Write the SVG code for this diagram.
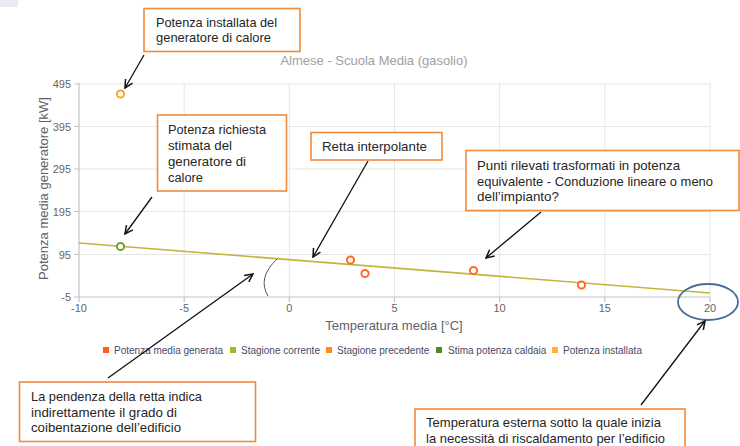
<svg xmlns="http://www.w3.org/2000/svg" width="740" height="446" viewBox="0 0 740 446">
<defs>
<marker id="arr" markerWidth="10" markerHeight="10" refX="9" refY="5" orient="auto" markerUnits="userSpaceOnUse">
<path d="M1,1 L9,5 L1,9" fill="none" stroke="#111" stroke-width="1.5"/>
</marker>
<style>
.grid{stroke:#e6e6e6;stroke-width:1;fill:none}
.axis{stroke:#c4c4c4;stroke-width:1.2;fill:none}
.tick{font-family:"Liberation Sans",Arial,sans-serif;font-size:11px;fill:#666}
.title{font-family:"Liberation Sans",Arial,sans-serif;font-size:13px;fill:#a0a0a0}
.atitle{font-family:"Liberation Sans",Arial,sans-serif;font-size:13px;fill:#606070}
.leg{font-family:"Liberation Sans",Arial,sans-serif;font-size:10px;fill:#4a4a66}
.box{fill:#fff;stroke:#f08a3c;stroke-width:1.6}
.note{font-family:"Liberation Sans",Arial,sans-serif;font-size:13px;fill:#262626}
.conn{stroke:#111;stroke-width:1.3;fill:none;marker-end:url(#arr)}
.pt{fill:#fff;stroke-width:2}
</style>
</defs>
<rect x="0" y="0" width="18" height="7" fill="#e9edf2"/>
<g id="chart">
<text class="title" x="374" y="64.5" text-anchor="middle">Almese - Scuola Media (gasolio)</text>
<g id="grid">
<line class="grid" x1="79" y1="84" x2="710" y2="84"/>
<line class="grid" x1="79" y1="126.5" x2="710" y2="126.5"/>
<line class="grid" x1="79" y1="169" x2="710" y2="169"/>
<line class="grid" x1="79" y1="211.5" x2="710" y2="211.5"/>
<line class="grid" x1="79" y1="254.5" x2="710" y2="254.5"/>
<line class="grid" x1="184.2" y1="83" x2="184.2" y2="297"/>
<line class="grid" x1="289.3" y1="83" x2="289.3" y2="297"/>
<line class="grid" x1="394.5" y1="83" x2="394.5" y2="297"/>
<line class="grid" x1="499.6" y1="83" x2="499.6" y2="297"/>
<line class="grid" x1="604.8" y1="83" x2="604.8" y2="297"/>
<line class="grid" x1="710" y1="83" x2="710" y2="297"/>
</g>
<g id="axes">
<line class="axis" x1="79" y1="83" x2="79" y2="297"/>
<line class="axis" x1="79" y1="297" x2="710" y2="297"/>
<path class="axis" d="M74,84H79M74,126.5H79M74,169H79M74,211.5H79M74,254.5H79M74,297H79M79,297V302M184.2,297V302M289.3,297V302M394.5,297V302M499.6,297V302M604.8,297V302M710,297V302"/>
<text class="tick" x="71" y="88" text-anchor="end">495</text>
<text class="tick" x="71" y="130.5" text-anchor="end">395</text>
<text class="tick" x="71" y="173" text-anchor="end">295</text>
<text class="tick" x="71" y="215.5" text-anchor="end">195</text>
<text class="tick" x="71" y="258.5" text-anchor="end">95</text>
<text class="tick" x="71" y="301" text-anchor="end">-5</text>
<text class="tick" x="79" y="312" text-anchor="middle">-10</text>
<text class="tick" x="184.2" y="312" text-anchor="middle">-5</text>
<text class="tick" x="289.3" y="312" text-anchor="middle">0</text>
<text class="tick" x="394.5" y="312" text-anchor="middle">5</text>
<text class="tick" x="499.6" y="312" text-anchor="middle">10</text>
<text class="tick" x="604.8" y="312" text-anchor="middle">15</text>
<text class="tick" x="710" y="312" text-anchor="middle">20</text>
<text class="atitle" x="394" y="330" text-anchor="middle">Temperatura media [°C]</text>
<text class="atitle" transform="translate(48,188.5) rotate(-90)" text-anchor="middle">Potenza media generatore [kW]</text>
</g>
<line id="trend" x1="79" y1="243" x2="710" y2="293" stroke="#c4b43c" stroke-width="1.6"/>
<g id="points">
<circle class="pt" cx="120.5" cy="94" r="3.6" stroke="#f5a623"/>
<circle class="pt" cx="120.5" cy="246.5" r="3.6" stroke="#74a032"/>
<circle class="pt" cx="350.5" cy="260" r="3.6" stroke="#ff6a2a"/>
<circle class="pt" cx="365" cy="273.5" r="3.6" stroke="#ff6a2a"/>
<circle class="pt" cx="473.5" cy="270.5" r="3.6" stroke="#ff6a2a"/>
<circle class="pt" cx="581.5" cy="285" r="3.6" stroke="#ff6a2a"/>
</g>
<g id="legend">
<rect x="103" y="347" width="6" height="6" fill="#ff5a1f"/>
<text class="leg" x="114" y="353.5">Potenza media generata</text>
<rect x="230" y="347" width="6" height="6" fill="#a4b82a"/>
<text class="leg" x="241" y="353.5">Stagione corrente</text>
<rect x="326" y="347" width="6" height="6" fill="#ff8c1a"/>
<text class="leg" x="337" y="353.5">Stagione precedente</text>
<rect x="436" y="347" width="6" height="6" fill="#4e8a1e"/>
<text class="leg" x="448" y="353.5">Stima potenza caldaia</text>
<rect x="552" y="347" width="6" height="6" fill="#ffb238"/>
<text class="leg" x="563" y="353.5">Potenza installata</text>
</g>
</g>
<path id="angle-arc" d="M277,259 Q257,278 268,296" fill="none" stroke="#555" stroke-width="1"/>
<ellipse id="threshold-mark" cx="708" cy="302" rx="30" ry="18" fill="none" stroke="#4a6f96" stroke-width="1.8"/>
<g id="connectors">
<line class="conn" x1="144" y1="55" x2="125" y2="88"/>
<line class="conn" x1="152" y1="197" x2="125" y2="234"/>
<line class="conn" x1="368" y1="161" x2="313" y2="257"/>
<line class="conn" x1="541" y1="212" x2="486" y2="258"/>
<line class="conn" x1="108" y1="378" x2="253" y2="274"/>
<line class="conn" x1="641" y1="405" x2="705" y2="321"/>
</g>
<g id="note-installata">
<rect class="box" x="144" y="8.5" width="156" height="43"/>
<text class="note" x="156" y="27" textLength="121" lengthAdjust="spacingAndGlyphs">Potenza installata del</text>
<text class="note" x="156" y="41.5" textLength="115" lengthAdjust="spacingAndGlyphs">generatore di calore</text>
</g>
<g id="note-richiesta">
<rect class="box" x="157.5" y="115" width="129" height="76"/>
<text class="note" x="168" y="134" textLength="98" lengthAdjust="spacingAndGlyphs">Potenza richiesta</text>
<text class="note" x="168" y="150" textLength="64" lengthAdjust="spacingAndGlyphs">stimata del</text>
<text class="note" x="168" y="166" textLength="78" lengthAdjust="spacingAndGlyphs">generatore di</text>
<text class="note" x="168" y="181.5" textLength="35" lengthAdjust="spacingAndGlyphs">calore</text>
</g>
<g id="note-retta">
<rect class="box" x="311" y="132.5" width="131" height="27.5"/>
<text class="note" x="322" y="150.5" textLength="105" lengthAdjust="spacingAndGlyphs">Retta interpolante</text>
</g>
<g id="note-punti">
<rect class="box" x="466" y="150.5" width="273" height="60"/>
<text class="note" x="477" y="169.5" textLength="203" lengthAdjust="spacingAndGlyphs">Punti rilevati trasformati in potenza</text>
<text class="note" x="477" y="185.5" textLength="236" lengthAdjust="spacingAndGlyphs">equivalente - Conduzione lineare o meno</text>
<text class="note" x="477" y="200.5" textLength="82" lengthAdjust="spacingAndGlyphs">dell’impianto?</text>
</g>
<g id="note-pendenza">
<rect class="box" x="19.5" y="382" width="236" height="59.5"/>
<text class="note" x="31" y="400.5" textLength="171" lengthAdjust="spacingAndGlyphs">La pendenza della retta indica</text>
<text class="note" x="31" y="417" textLength="146" lengthAdjust="spacingAndGlyphs">indirettamente il grado di</text>
<text class="note" x="31" y="432" textLength="150" lengthAdjust="spacingAndGlyphs">coibentazione dell’edificio</text>
</g>
<g id="note-temperatura">
<rect class="box" x="415" y="409" width="270" height="45"/>
<text class="note" x="426" y="426.5" textLength="235" lengthAdjust="spacingAndGlyphs">Temperatura esterna sotto la quale inizia</text>
<text class="note" x="426" y="443" textLength="239" lengthAdjust="spacingAndGlyphs">la necessità di riscaldamento per l’edificio</text>
</g>
</svg>
